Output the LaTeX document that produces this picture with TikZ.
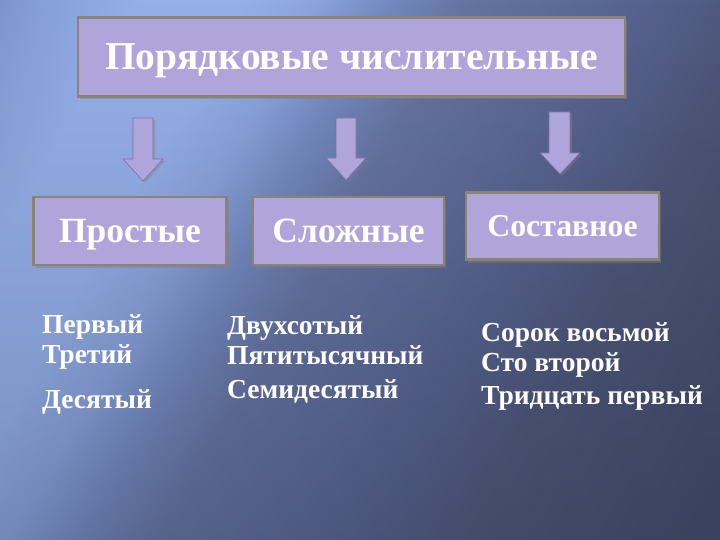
\documentclass[tikz,border=0pt]{standalone}
\usepackage{fontspec}
\setmainfont{Liberation Serif}
\usetikzlibrary{shadows,fadings}
\definecolor{lav}{HTML}{B0A5DB}
\definecolor{frame}{HTML}{8A8470}
\definecolor{arrline}{HTML}{7A6FA8}
\definecolor{c0}{HTML}{6A82BB}
\definecolor{c1}{HTML}{86A0D8}
\definecolor{c2}{HTML}{95B0E9}
\definecolor{c3}{HTML}{8AA3DC}
\definecolor{c4}{HTML}{7389BF}
\definecolor{c5}{HTML}{64739F}
\definecolor{c6}{HTML}{5A6895}
\definecolor{c7}{HTML}{525D86}
\definecolor{c8}{HTML}{4C5576}
\definecolor{c9}{HTML}{3F4764}
\definecolor{shadeK}{HTML}{2E3550}
\pgfdeclarehorizontalshading{bgshade}{100bp}{color(0bp)=(c0); color(11bp)=(c0);
  color(18.6bp)=(c1); color(25bp)=(c2); color(32bp)=(c2); color(37bp)=(c3);
  color(41.6bp)=(c4); color(47bp)=(c5); color(55bp)=(c6); color(62bp)=(c7);
  color(66.6bp)=(c8); color(82bp)=(c9); color(100bp)=(c9)}
\tikzfading[name=fadebot, top color=transparent!100, middle color=transparent!100, bottom color=transparent!75]
\tikzset{
  box/.style={draw=frame, line width=2.2pt, fill=lav, inner sep=0pt,
    text=white, text depth=0pt,
    drop shadow={shadow xshift=2pt, shadow yshift=-3pt, opacity=0.45}},
  word/.style={text=white, font=\bfseries\fontsize{27.5}{27.5}\selectfont, anchor=base west, inner sep=0pt},
  barrow/.style={fill=lav, draw=arrline, line width=0.6pt,
    drop shadow={shadow xshift=2pt, shadow yshift=-2pt, opacity=0.4}}
}
\begin{document}
\begin{tikzpicture}[x=1pt,y=-1pt]
\useasboundingbox (0,0) rectangle (720,540);
% background
\shade[shading=bgshade, shading angle=-30] (0,0) rectangle (720,540);
\fill[shadeK, path fading=fadebot] (0,0) rectangle (720,540);
% boxes
\node[box, minimum width=547pt, minimum height=79pt, text height=26pt,
  font=\bfseries\fontsize{39.5}{39.5}\selectfont] (top) at (351.5,57) {Порядковые числительные};
\node[box, minimum width=193pt, minimum height=68pt, text height=23.4pt,
  font=\bfseries\fontsize{35.5}{35.5}\selectfont] (p) at (130,231) {Простые};
\node[box, minimum width=191pt, minimum height=68pt, text height=23.4pt,
  font=\bfseries\fontsize{35.5}{35.5}\selectfont] (s) at (348.5,231) {Сложные};
\node[box, minimum width=193pt, minimum height=67pt, text height=21pt,
  font=\bfseries\fontsize{31.8}{31.8}\selectfont] (c) at (562.5,226) {Составное};
% block arrows
\draw[barrow] (133,118) -- (153,118) -- (153,159) -- (163,159) -- (143,181) -- (123,159) -- (133,159) -- cycle;
\draw[barrow] (336,118) -- (356,118) -- (356,158) -- (366,158) -- (346,180) -- (326,158) -- (336,158) -- cycle;
\draw[barrow] (549,112) -- (570,112) -- (570,153) -- (580,153) -- (560,174) -- (540,153) -- (549,153) -- cycle;
% words
\node[word] (w1) at (42,333) {Первый};
\node[word] (w2) at (42,363) {Третий};
\node[word] (w3) at (42,408) {Десятый};
\node[word] (w4) at (227,334) {Двухсотый};
\node[word] (w5) at (227,364) {Пятитысячный};
\node[word] (w6) at (227,398) {Семидесятый};
\node[word] (w7) at (481,341) {Сорок восьмой};
\node[word] (w8) at (481,371) {Сто второй};
\node[word] (w9) at (481,404) {Тридцать первый};
\end{tikzpicture}
\end{document}
